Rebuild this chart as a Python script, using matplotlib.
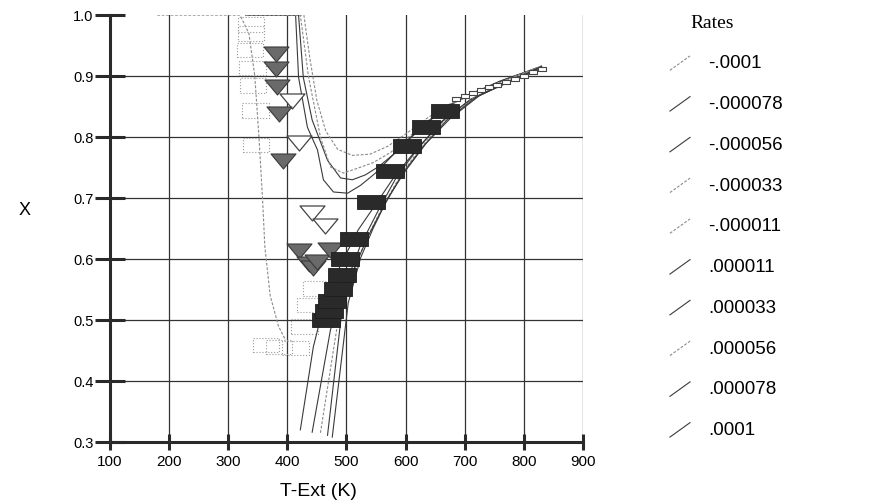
import matplotlib
matplotlib.use('Agg')
import matplotlib.pyplot as plt
from matplotlib.path import Path
from matplotlib.lines import Line2D
from matplotlib.legend_handler import HandlerBase

plt.rcParams['font.family'] = ['Liberation Sans', 'DejaVu Sans']

# fitted curves, one per rate (T-Ext in K, X)
t_m0001 = [180, 320, 335, 345, 352, 358, 362, 371, 385, 397]
x_m0001 = [1.0, 1.0, 0.97, 0.90, 0.80, 0.70, 0.62, 0.54, 0.49, 0.467]

t_m000078 = [330, 414, 419, 434, 451, 461, 478, 502, 524, 548, 573, 603, 634, 666, 700, 760, 830]
x_m000078 = [1.0, 1.0, 0.898, 0.816, 0.779, 0.73, 0.71, 0.708, 0.721, 0.74, 0.765, 0.795, 0.823, 0.848, 0.866, 0.892, 0.916]

t_m000056 = [330, 419, 427, 442, 468, 490, 510, 532, 555, 580, 610, 640, 670, 710, 770, 830]
x_m000056 = [1.0, 1.0, 0.898, 0.828, 0.762, 0.733, 0.73, 0.738, 0.752, 0.772, 0.8, 0.826, 0.85, 0.87, 0.895, 0.916]

t_m000033 = [330, 422, 436, 456, 473, 495, 519, 545, 575, 605, 640, 675, 720, 780, 830]
x_m000033 = [1.0, 1.0, 0.898, 0.8, 0.751, 0.741, 0.749, 0.758, 0.775, 0.8, 0.828, 0.852, 0.874, 0.897, 0.917]

t_m000011 = [330, 428, 438, 450, 465, 485, 510, 540, 570, 600, 635, 670, 715, 775, 830]
x_m000011 = [1.0, 1.0, 0.93, 0.86, 0.81, 0.78, 0.77, 0.772, 0.785, 0.805, 0.83, 0.852, 0.873, 0.896, 0.916]

t_p000011 = [422, 444, 464, 490, 520, 549, 583, 625, 668, 710, 770, 830]
x_p000011 = [0.32, 0.456, 0.533, 0.59, 0.648, 0.689, 0.738, 0.787, 0.831, 0.861, 0.89, 0.913]

t_p000033 = [442, 473, 498, 524, 554, 585, 620, 660, 710, 770, 830]
x_p000033 = [0.316, 0.484, 0.557, 0.623, 0.68, 0.735, 0.78, 0.825, 0.862, 0.89, 0.914]

t_p000056 = [456, 486, 507, 530, 558, 590, 625, 665, 715, 775, 830]
x_p000056 = [0.315, 0.5, 0.566, 0.625, 0.68, 0.735, 0.782, 0.826, 0.864, 0.892, 0.914]

t_p000078 = [468, 493, 515, 538, 565, 595, 630, 670, 720, 780, 830]
x_p000078 = [0.311, 0.521, 0.59, 0.64, 0.69, 0.74, 0.785, 0.828, 0.866, 0.893, 0.915]

t_p0001 = [476, 503, 524, 545, 570, 600, 635, 675, 725, 785, 830]
x_p0001 = [0.308, 0.528, 0.602, 0.65, 0.7, 0.745, 0.79, 0.83, 0.868, 0.895, 0.916]

rate_labels = ['-.0001', '-.000078', '-.000056', '-.000033', '-.000011',
               '.000011', '.000033', '.000056', '.000078', '.0001']

# measured points
rect_t = [466, 470, 476, 485, 493, 498, 512, 542, 573, 603, 634, 666]
rect_x = [0.500, 0.515, 0.531, 0.551, 0.574, 0.600, 0.633, 0.693, 0.744, 0.785, 0.816, 0.843]

tri_t = [380, 381, 383, 386, 393, 420, 437, 444, 451, 473]
tri_x = [0.936, 0.911, 0.882, 0.838, 0.761, 0.613, 0.592, 0.586, 0.595, 0.615]

open_tri_t = [408, 419, 442, 464]
open_tri_x = [0.859, 0.790, 0.675, 0.654]

dot_rect_t = [339, 339, 337, 341, 342, 346, 347, 364, 386, 414, 429, 439, 449]
dot_rect_x = [0.985, 0.970, 0.943, 0.913, 0.885, 0.844, 0.787, 0.459, 0.456, 0.454, 0.489, 0.525, 0.552]

chain_t = [686, 700, 714, 727, 741, 754, 770, 785, 800, 815, 830]
chain_x = [0.862, 0.867, 0.872, 0.877, 0.882, 0.886, 0.890, 0.895, 0.900, 0.906, 0.911]

curves = [(t_m0001, x_m0001), (t_m000078, x_m000078), (t_m000056, x_m000056),
          (t_m000033, x_m000033), (t_m000011, x_m000011), (t_p000011, x_p000011),
          (t_p000033, x_p000033), (t_p000056, x_p000056), (t_p000078, x_p000078),
          (t_p0001, x_p0001)]
dashed = {'-.0001', '-.000033', '-.000011', '.000056'}

# wide box and flat down-triangle marker shapes
rect_path = Path([(-1, -0.55), (1, -0.55), (1, 0.55), (-1, 0.55), (-1, -0.55)],
                 [Path.MOVETO, Path.LINETO, Path.LINETO, Path.LINETO, Path.CLOSEPOLY])
tri_path = Path([(-1, 0.6), (1, 0.6), (0, -0.6), (-1, 0.6)],
                [Path.MOVETO, Path.LINETO, Path.LINETO, Path.CLOSEPOLY])


class DiagonalHandler(HandlerBase):
    def create_artists(self, legend, orig_handle, xdescent, ydescent,
                       width, height, fontsize, trans):
        line = Line2D([-xdescent, -xdescent + width],
                      [-ydescent - 0.15 * height, -ydescent + 0.95 * height])
        self.update_prop(line, orig_handle, legend)
        line.set_transform(trans)
        return [line]


fig = plt.figure(figsize=(8.89, 5.04), dpi=100)
ax = fig.add_axes([0.1237, 0.123, 0.532, 0.847])

handles = []
for (t, x), lab in zip(curves, rate_labels):
    if lab in dashed:
        h, = ax.plot(t, x, color='#8a8a8a', lw=0.8, ls=(0, (2.5, 1.5)), zorder=2)
    else:
        h, = ax.plot(t, x, color='#3a3a3a', lw=0.8, zorder=2)
    handles.append(h)

ax.scatter(dot_rect_t, dot_rect_x, marker=rect_path, s=19 ** 2, facecolors='none',
           edgecolors='#9a9a9a', linewidths=0.8, linestyles=':', zorder=2.5)
ax.plot(chain_t, chain_x, color='#555555', lw=0.8, ls=(0, (2, 1.5)),
        marker=rect_path, ms=5.5, mfc='white', mec='#444444', mew=0.8, zorder=3)
ax.scatter(open_tri_t, open_tri_x, marker=tri_path, s=18 ** 2, facecolors='white',
           edgecolors='#444444', linewidths=0.9, zorder=3)
ax.scatter(tri_t, tri_x, marker=tri_path, s=18 ** 2, facecolors='#6a6a6a',
           edgecolors='#3a3a3a', linewidths=0.8, zorder=4)
ax.scatter(rect_t, rect_x, marker=rect_path, s=19.5 ** 2, facecolors='#2a2a2a',
           edgecolors='#1e1e1e', linewidths=0.6, zorder=4)

ax.set_xlim(100, 900)
ax.set_ylim(0.3, 1.0)
ax.set_xticks(range(100, 1000, 100))
ax.set_yticks([0.3, 0.4, 0.5, 0.6, 0.7, 0.8, 0.9, 1.0])
ax.set_yticklabels(['0.3', '0.4', '0.5', '0.6', '0.7', '0.8', '0.9', '1.0'])

ax.grid(True, color='#333333', lw=0.9, zorder=1)
ax.set_axisbelow(True)
for tick in ax.yaxis.get_major_ticks():
    if abs(tick.get_loc() - 1.0) < 1e-9:
        tick.gridline.set_visible(False)

for side in ['top', 'right']:
    ax.spines[side].set_visible(False)
for side in ['left', 'bottom']:
    ax.spines[side].set_linewidth(2.2)
    ax.spines[side].set_color('#2a2a2a')
ax.tick_params(axis='y', direction='inout', length=22, width=2.2, color='#2a2a2a',
               labelsize=10.5, pad=1)
ax.tick_params(axis='x', direction='inout', length=11, width=2.2, color='#2a2a2a',
               labelsize=11, pad=4)

ax.set_xlabel('T-Ext (K)', fontsize=14)
ax.xaxis.set_label_coords(0.44, -0.095)
ax.set_ylabel('X', fontsize=13, rotation=0, ha='center', va='center')
ax.yaxis.set_label_coords(-0.18, 0.543)

leg = ax.legend(handles, rate_labels, title='Rates', loc='upper left',
                bbox_to_anchor=(0.7536, 0.971), bbox_transform=fig.transFigure,
                frameon=False, fontsize=13.5, handlelength=1.07, handletextpad=0.96,
                labelspacing=1.26, borderpad=0, borderaxespad=0, alignment='left',
                handler_map={Line2D: DiagonalHandler()})
title = leg.get_title()
title.set_fontfamily('Liberation Serif')
title.set_fontsize(14)
title.set_x(20)  # nudge the title in from the handle column

fig.savefig('out.png', dpi=100, facecolor='white')
